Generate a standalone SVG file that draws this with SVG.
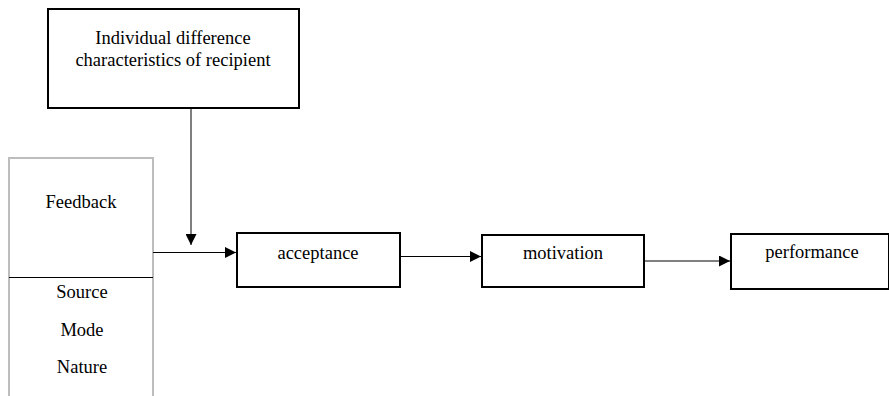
<svg xmlns="http://www.w3.org/2000/svg" width="889" height="396" viewBox="0 0 889 396">
<style>
.box{fill:#fff;stroke:#000;stroke-width:2}
.gbox{fill:#fff;stroke:#bdbdbd;stroke-width:2}
.t{font-family:"Liberation Serif","Times New Roman",serif;font-size:18.5px;fill:#000;text-anchor:middle}
.c{stroke:#000;stroke-width:1;fill:none}
</style>
<defs>
<marker id="ah" viewBox="0 0 10 10" refX="10" refY="5" markerWidth="11" markerHeight="11" markerUnits="userSpaceOnUse" orient="auto">
<path d="M0,0 L10,5 L0,10 Z" fill="#000"/>
</marker>
</defs>
<g id="individual">
<rect class="box" x="48" y="9" width="251" height="99"/>
<text class="t" x="173" y="44">Individual difference</text>
<text class="t" x="173" y="66">characteristics of recipient</text>
</g>
<g id="feedback">
<rect class="gbox" x="9" y="158" width="144" height="250"/>
<line x1="9" y1="277.5" x2="153" y2="277.5" stroke="#000" stroke-width="1"/>
<text class="t" x="81" y="208">Feedback</text>
<text class="t" x="82" y="298">Source</text>
<text class="t" x="82" y="336">Mode</text>
<text class="t" x="82" y="373">Nature</text>
</g>
<g id="acceptance">
<rect class="box" x="237" y="233" width="163" height="54"/>
<text class="t" x="318" y="259">acceptance</text>
</g>
<g id="motivation">
<rect class="box" x="482" y="235" width="162" height="52"/>
<text class="t" x="563" y="259">motivation</text>
</g>
<g id="performance">
<rect class="box" x="731" y="234" width="158" height="55"/>
<text class="t" x="812" y="258">performance</text>
</g>
<g id="connectors">
<line class="c" x1="191" y1="108" x2="191" y2="245" marker-end="url(#ah)"/>
<line class="c" x1="153" y1="252.5" x2="236" y2="252.5" marker-end="url(#ah)"/>
<line class="c" x1="400" y1="256.5" x2="481" y2="256.5" marker-end="url(#ah)"/>
<line class="c" x1="644" y1="261" x2="730" y2="261" marker-end="url(#ah)"/>
</g>
</svg>
